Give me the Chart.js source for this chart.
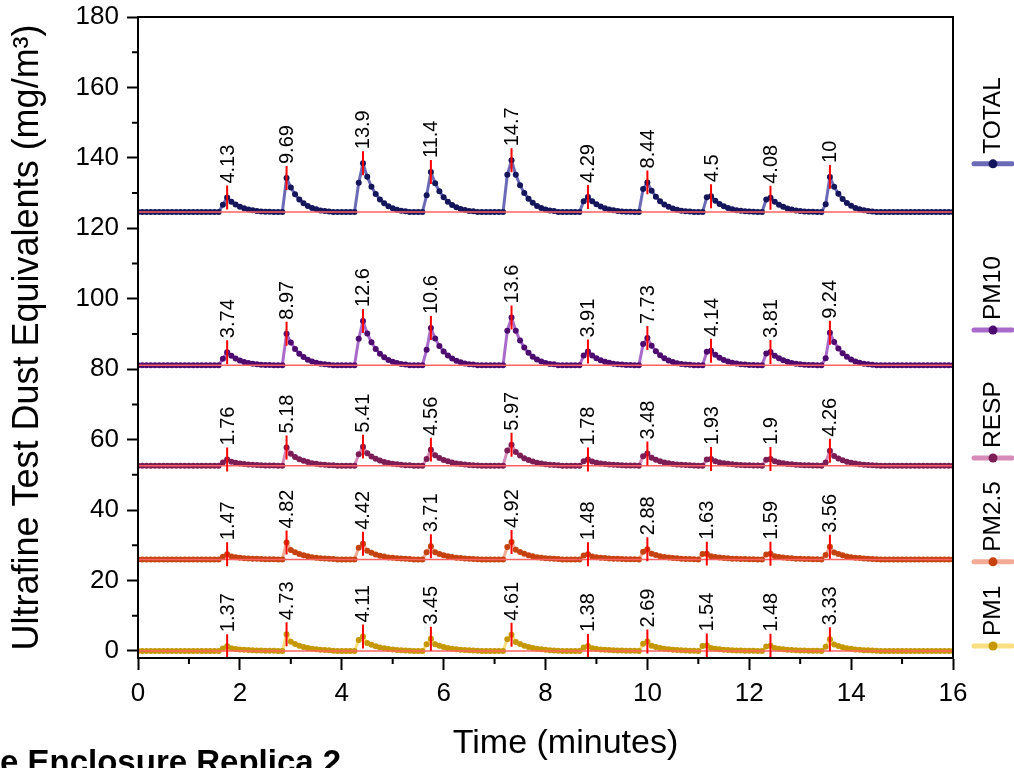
<!DOCTYPE html>
<html>
<head>
<meta charset="utf-8">
<title>Enclosure Replica 2 - peaks</title>
<script src="https://cdn.jsdelivr.net/npm/chart.js@4.4.1/dist/chart.umd.min.js"></script>
<style>
    body { margin: 0; background: #fff; }
    canvas { display: block; }
</style>
</head>
<body>
<canvas id="wykres" width="1014" height="768"></canvas>
<script>
// one reading every 5 s, 0..16 min
var stepMinutes = 5 / 60;
var sampleCount = 193;
var xTicks = [0, 2, 4, 6, 8, 10, 12, 14, 16];
var yTicks = [0, 20, 40, 60, 80, 100, 120, 140, 160, 180];

// top to bottom, as stacked in the plot
var seriesNames = ["TOTAL", "PM10", "RESP", "PM2.5", "PM1"];

// sample index of each detected peak
var peakIndexTotal = [21, 35, 53, 69, 88, 106, 120, 135, 149, 163];
var peakIndexPm10  = [21, 35, 53, 69, 88, 106, 120, 135, 149, 163];
var peakIndexResp  = [21, 35, 53, 69, 88, 106, 120, 135, 149, 163];
var peakIndexPm25  = [21, 35, 53, 69, 88, 106, 120, 134, 149, 163];
var peakIndexPm1   = [21, 35, 53, 69, 88, 106, 120, 134, 149, 163];

// peak heights (labels)
var peakTotal = [4.13, 9.69, 13.9, 11.4, 14.7, 4.29, 8.44, 4.5, 4.08, 10];
var peakPm10  = [3.74, 8.97, 12.6, 10.6, 13.6, 3.91, 7.73, 4.14, 3.81, 9.24];
var peakResp  = [1.76, 5.18, 5.41, 4.56, 5.97, 1.78, 3.48, 1.93, 1.9, 4.26];
var peakPm25  = [1.47, 4.82, 4.42, 3.71, 4.92, 1.48, 2.88, 1.63, 1.59, 3.56];
var peakPm1   = [1.37, 4.73, 4.11, 3.45, 4.61, 1.38, 2.69, 1.54, 1.48, 3.33];

// readings around each peak, starting one sample before the peak (0 = baseline)
var segTotal = [
    [2.07, 4.13, 2.97, 2.15, 1.53, 1.07, 0.74, 0.50, 0.33, 0.21, 0.12, 0.08],
    [0, 9.69, 6.98, 5.04, 3.59, 2.52, 1.74, 1.16, 0.78, 0.48, 0.29, 0.19],
    [8.34, 13.9, 10.01, 7.23, 5.14, 3.61, 2.50, 1.67, 1.11, 0.70, 0.42, 0.28],
    [4.79, 11.4, 8.21, 5.93, 4.22, 2.96, 2.05, 1.37, 0.91, 0.57, 0.34, 0.23],
    [10.58, 14.7, 10.58, 7.64, 5.44, 3.82, 2.65, 1.76, 1.18, 0.74, 0.44, 0.29],
    [3.09, 4.29, 3.09, 2.23, 1.59, 1.12, 0.77, 0.51, 0.34, 0.21, 0.13, 0.09],
    [6.58, 8.44, 6.08, 4.39, 3.12, 2.19, 1.52, 1.01, 0.68, 0.42, 0.25, 0.17],
    [4.19, 4.5, 3.24, 2.34, 1.67, 1.17, 0.81, 0.54, 0.36, 0.23, 0.14, 0.09],
    [3.59, 4.08, 2.94, 2.12, 1.51, 1.06, 0.73, 0.49, 0.33, 0.20, 0.12, 0.08],
    [2.2, 10, 7.2, 5.2, 3.7, 2.6, 1.8, 1.2, 0.8, 0.5, 0.3, 0.2]
];
var segPm10 = [
    [1.87, 3.74, 2.69, 1.94, 1.38, 0.97, 0.67, 0.45, 0.30, 0.19, 0.11, 0.07],
    [0, 8.97, 6.46, 4.66, 3.32, 2.33, 1.61, 1.08, 0.72, 0.45, 0.27, 0.18],
    [7.56, 12.6, 9.07, 6.55, 4.66, 3.28, 2.27, 1.51, 1.01, 0.63, 0.38, 0.25],
    [4.45, 10.6, 7.63, 5.51, 3.92, 2.76, 1.91, 1.27, 0.85, 0.53, 0.32, 0.21],
    [9.79, 13.6, 9.79, 7.07, 5.03, 3.54, 2.45, 1.63, 1.09, 0.68, 0.41, 0.27],
    [2.82, 3.91, 2.82, 2.03, 1.45, 1.02, 0.70, 0.47, 0.31, 0.20, 0.12, 0.08],
    [6.03, 7.73, 5.57, 4.02, 2.86, 2.01, 1.39, 0.93, 0.62, 0.39, 0.23, 0.15],
    [3.85, 4.14, 2.98, 2.15, 1.53, 1.08, 0.75, 0.50, 0.33, 0.21, 0.12, 0.08],
    [3.35, 3.81, 2.74, 1.98, 1.41, 0.99, 0.69, 0.46, 0.30, 0.19, 0.11, 0.08],
    [2.03, 9.24, 6.65, 4.80, 3.42, 2.40, 1.66, 1.11, 0.74, 0.46, 0.28, 0.18]
];
var segResp = [
    [0.88, 1.76, 1.14, 0.84, 0.63, 0.48, 0.35, 0.25, 0.18, 0.12, 0.09, 0.05, 0.04],
    [0, 5.18, 3.37, 2.49, 1.86, 1.40, 1.04, 0.73, 0.52, 0.36, 0.26, 0.16, 0.10],
    [3.25, 5.41, 3.52, 2.60, 1.95, 1.46, 1.08, 0.76, 0.54, 0.38, 0.27, 0.16, 0.11],
    [1.92, 4.56, 2.96, 2.19, 1.64, 1.23, 0.91, 0.64, 0.46, 0.32, 0.23, 0.14, 0.09],
    [4.30, 5.97, 3.88, 2.87, 2.15, 1.61, 1.19, 0.84, 0.60, 0.42, 0.30, 0.18, 0.12],
    [1.28, 1.78, 1.16, 0.85, 0.64, 0.48, 0.36, 0.25, 0.18, 0.12, 0.09, 0.05, 0.04],
    [2.71, 3.48, 2.26, 1.67, 1.25, 0.94, 0.70, 0.49, 0.35, 0.24, 0.17, 0.10, 0.07],
    [1.79, 1.93, 1.25, 0.93, 0.69, 0.52, 0.39, 0.27, 0.19, 0.14, 0.10, 0.06, 0.04],
    [1.67, 1.9, 1.24, 0.91, 0.68, 0.51, 0.38, 0.27, 0.19, 0.13, 0.10, 0.06, 0.04],
    [0.94, 4.26, 2.77, 2.04, 1.53, 1.15, 0.85, 0.60, 0.43, 0.30, 0.21, 0.13, 0.09]
];
var segPm25 = [
    [0.74, 1.47, 0.81, 0.62, 0.47, 0.35, 0.26, 0.19, 0.15, 0.10, 0.07, 0.05, 0.03],
    [0, 4.82, 2.65, 2.02, 1.54, 1.16, 0.87, 0.63, 0.48, 0.34, 0.24, 0.17, 0.10],
    [3.32, 4.42, 2.43, 1.86, 1.41, 1.06, 0.80, 0.57, 0.44, 0.31, 0.22, 0.15, 0.09],
    [2.04, 3.71, 2.04, 1.56, 1.19, 0.89, 0.67, 0.48, 0.37, 0.26, 0.19, 0.13, 0.07],
    [3.54, 4.92, 2.71, 2.07, 1.57, 1.18, 0.89, 0.64, 0.49, 0.34, 0.25, 0.17, 0.10],
    [1.07, 1.48, 0.81, 0.62, 0.47, 0.36, 0.27, 0.19, 0.15, 0.10, 0.07, 0.05, 0.03],
    [2.16, 2.88, 1.58, 1.21, 0.92, 0.69, 0.52, 0.37, 0.29, 0.20, 0.14, 0.10, 0.06],
    [1.52, 1.63, 0.90, 0.68, 0.52, 0.39, 0.29, 0.21, 0.16, 0.11, 0.08, 0.06, 0.03],
    [1.40, 1.59, 0.87, 0.67, 0.51, 0.38, 0.29, 0.21, 0.16, 0.11, 0.08, 0.06, 0.03],
    [1.25, 3.56, 1.96, 1.50, 1.14, 0.85, 0.64, 0.46, 0.36, 0.25, 0.18, 0.12, 0.07]
];
var segPm1 = [
    [0.69, 1.37, 0.75, 0.58, 0.44, 0.33, 0.25, 0.18, 0.14, 0.10, 0.07, 0.05, 0.03],
    [0, 4.73, 2.60, 1.99, 1.51, 1.14, 0.85, 0.61, 0.47, 0.33, 0.24, 0.17, 0.09],
    [3.08, 4.11, 2.26, 1.73, 1.32, 0.99, 0.74, 0.53, 0.41, 0.29, 0.21, 0.14, 0.08],
    [1.90, 3.45, 1.90, 1.45, 1.10, 0.83, 0.62, 0.45, 0.35, 0.24, 0.17, 0.12, 0.07],
    [3.32, 4.61, 2.54, 1.94, 1.48, 1.11, 0.83, 0.60, 0.46, 0.32, 0.23, 0.16, 0.09],
    [0.99, 1.38, 0.76, 0.58, 0.44, 0.33, 0.25, 0.18, 0.14, 0.10, 0.07, 0.05, 0.03],
    [2.02, 2.69, 1.48, 1.13, 0.86, 0.65, 0.48, 0.35, 0.27, 0.19, 0.13, 0.09, 0.05],
    [1.43, 1.54, 0.85, 0.65, 0.49, 0.37, 0.28, 0.20, 0.15, 0.11, 0.08, 0.05, 0.03],
    [1.30, 1.48, 0.81, 0.62, 0.47, 0.36, 0.27, 0.19, 0.15, 0.10, 0.07, 0.05, 0.03],
    [1.17, 3.33, 1.83, 1.40, 1.07, 0.80, 0.60, 0.43, 0.33, 0.23, 0.17, 0.12, 0.07]
];

// stacking offsets of each trace on the common y axis
var seriesOffsets = [124.6, 81.1, 52.6, 26.0, 0];
var legendAnchors = [138.3, 91.1, 54.8, 25.3, 1.4];

var lineColors   = ["#6a6ab6", "#a96bcb", "#d78bb9", "#f3ab97", "#f9df7f"];
var markerColors = ["#15155b", "#4e0b6f", "#7c1d56", "#c5420f", "#c59700"];

var peakIndex = [peakIndexTotal, peakIndexPm10, peakIndexResp, peakIndexPm25, peakIndexPm1];
var peakHeights = [peakTotal, peakPm10, peakResp, peakPm25, peakPm1];
var segments = [segTotal, segPm10, segResp, segPm25, segPm1];

var fontFamily = "Arial, 'Liberation Sans', Helvetica, sans-serif";
var peakTickHalf = 3.4;

var times = [];
for (let i = 0; i < sampleCount; ++i) times.push(i * stepMinutes);

function buildReadings(idx, segs) {
    var y = new Array(sampleCount).fill(0);
    segs.forEach(function (seg, k) {
        seg.forEach(function (v, j) { y[idx[k] - 1 + j] = v; });
    });
    return y;
}

var datasets = [];
seriesNames.forEach(function (name, s) {
    var readings = buildReadings(peakIndex[s], segments[s]);
    var off = seriesOffsets[s];
    datasets.push({
        label: name,
        data: times.map(function (t, i) { return { x: t, y: off + readings[i] }; }),
        borderColor: lineColors[s],
        borderWidth: 3,
        pointRadius: 3,
        pointBorderWidth: 0,
        pointBackgroundColor: markerColors[s],
        tension: 0,
        order: 2
    });
    // baseline
    datasets.push({
        label: name + " baseline",
        data: [{ x: 0, y: off }, { x: 16, y: off }],
        borderColor: "#ff6060",
        borderWidth: 1.5,
        pointRadius: 0,
        order: 1
    });
    // peak markers
    var marks = [];
    peakIndex[s].forEach(function (i, k) {
        var top = off + peakHeights[s][k];
        marks.push({ x: times[i], y: top - peakTickHalf });
        marks.push({ x: times[i], y: top + peakTickHalf });
        marks.push({ x: times[i], y: null });
    });
    datasets.push({
        label: name + " peaks",
        data: marks,
        borderColor: "#ff0000",
        borderWidth: 2,
        pointRadius: 0,
        spanGaps: false,
        order: 0
    });
});

var decorations = {
    id: "decorations",
    afterDatasetsDraw: function (chart) {
        var ctx = chart.ctx, x = chart.scales.x, y = chart.scales.y;
        ctx.save();
        ctx.fillStyle = "#000";
        ctx.font = "20px " + fontFamily;
        ctx.textAlign = "left";
        ctx.textBaseline = "middle";
        seriesNames.forEach(function (name, s) {
            peakIndex[s].forEach(function (i, k) {
                var h = peakHeights[s][k];
                var px = x.getPixelForValue(times[i]);
                var py = y.getPixelForValue(seriesOffsets[s] + h + peakTickHalf);
                ctx.save();
                ctx.translate(px + 1, py - 2);
                ctx.rotate(-Math.PI / 2);
                ctx.fillText(String(h), 0, 0);
                ctx.restore();
            });
        });
        ctx.restore();
    },
    afterDraw: function (chart) {
        var ctx = chart.ctx, a = chart.chartArea, x = chart.scales.x, y = chart.scales.y;
        ctx.save();
        // frame
        ctx.strokeStyle = "#000";
        ctx.lineWidth = 2;
        ctx.strokeRect(a.left, a.top, a.right - a.left, a.bottom - a.top);
        // minor ticks
        ctx.beginPath();
        for (let v = 1; v < 16; v += 2) {
            var px = x.getPixelForValue(v);
            ctx.moveTo(px, a.bottom);
            ctx.lineTo(px, a.bottom + 6);
        }
        for (let v = 10; v < 180; v += 20) {
            var py = y.getPixelForValue(v);
            ctx.moveTo(a.left, py);
            ctx.lineTo(a.left - 6, py);
        }
        ctx.stroke();

        // legend on the right
        ctx.font = "24.5px " + fontFamily;
        ctx.textAlign = "left";
        ctx.textBaseline = "middle";
        var lx = a.right + 40;
        seriesNames.forEach(function (name, s) {
            var py = y.getPixelForValue(legendAnchors[s]);
            ctx.strokeStyle = lineColors[s];
            ctx.lineWidth = 5;
            ctx.lineCap = "round";
            ctx.beginPath();
            ctx.moveTo(lx - 19, py);
            ctx.lineTo(lx + 19, py);
            ctx.stroke();
            ctx.fillStyle = markerColors[s];
            ctx.beginPath();
            ctx.arc(lx, py, 4.5, 0, Math.PI * 2);
            ctx.fill();
            ctx.fillStyle = "#000";
            ctx.save();
            ctx.translate(lx, py - 10);
            ctx.rotate(-Math.PI / 2);
            ctx.fillText(name, 0, 0);
            ctx.restore();
        });

        // x title
        ctx.fillStyle = "#000";
        ctx.font = "34px " + fontFamily;
        ctx.textAlign = "center";
        ctx.fillText("Time (minutes)", (a.left + a.right) / 2 + 20, 744);

        // caption cut by the bottom edge
        ctx.font = "bold 33px " + fontFamily;
        ctx.textAlign = "left";
        ctx.textBaseline = "alphabetic";
        ctx.fillText("e Enclosure Replica 2", 0, 773);
        ctx.restore();
    }
};

var wykres = new Chart(document.getElementById("wykres").getContext("2d"), {
    type: "line",
    data: { datasets: datasets },
    options: {
        responsive: false,
        animation: false,
        layout: { padding: { top: 17, right: 61, left: 0, bottom: 0 } },
        plugins: { legend: { display: false }, tooltip: { enabled: false } },
        scales: {
            x: {
                type: "linear",
                min: 0,
                max: 16,
                afterBuildTicks: function (s) { s.ticks = xTicks.map(function (v) { return { value: v }; }); },
                afterFit: function (s) { s.height = 110; s.paddingLeft = 0; s.paddingRight = 0; },
                ticks: { font: { size: 26, family: fontFamily }, color: "#000", padding: 8, maxRotation: 0 },
                grid: { drawOnChartArea: false, drawTicks: true, tickLength: 12, tickWidth: 2, tickColor: "#000" },
                border: { display: true, color: "#000", width: 2 }
            },
            y: {
                min: -2,
                max: 180,
                afterBuildTicks: function (s) { s.ticks = yTicks.map(function (v) { return { value: v }; }); },
                afterFit: function (s) { s.width = 138; s.paddingTop = 0; s.paddingBottom = 0; },
                ticks: { font: { size: 26, family: fontFamily }, color: "#000", padding: 8 },
                grid: { drawOnChartArea: false, drawTicks: true, tickLength: 11, tickWidth: 2, tickColor: "#000" },
                border: { display: true, color: "#000", width: 2 },
                title: {
                    display: true,
                    text: "Ultrafine Test Dust Equivalents (mg/m³)",
                    font: { size: 36, family: fontFamily },
                    color: "#000",
                    padding: { top: 6, bottom: 0 }
                }
            }
        }
    },
    plugins: [decorations]
});
</script>
</body>
</html>
